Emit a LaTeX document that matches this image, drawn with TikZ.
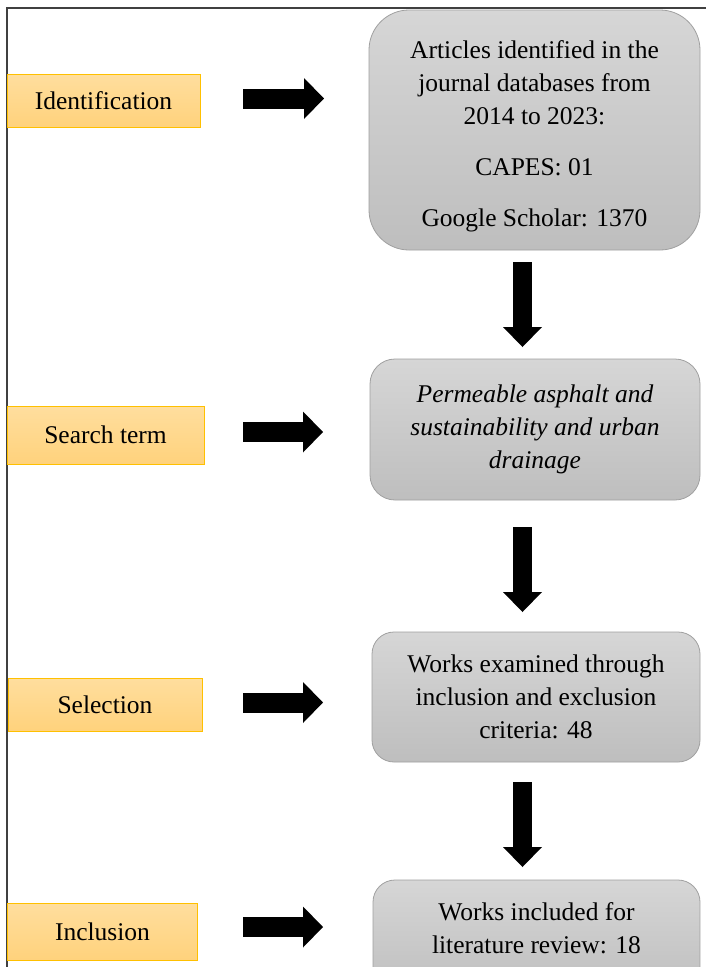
\documentclass[tikz,border=0pt]{standalone}
\usepackage{fontspec}
\setmainfont{Liberation Serif}
\usetikzlibrary{arrows.meta}
\definecolor{grayTop}{HTML}{D6D6D6}
\definecolor{grayBot}{HTML}{BEBEBE}
\definecolor{grayEdge}{HTML}{A0A0A0}
\definecolor{orTop}{HTML}{FFDE9E}
\definecolor{orBot}{HTML}{FFD27C}
\definecolor{orEdge}{HTML}{FFC000}
\definecolor{frameC}{HTML}{404040}
\tikzset{
  lbl/.style={draw=orEdge, line width=1pt, top color=orTop, bottom color=orBot,
    inner sep=0pt, align=center, font=\fontsize{25.5}{33}\selectfont},
  gbox/.style={draw=grayEdge, line width=0.8pt, top color=grayTop, bottom color=grayBot,
    inner sep=0pt, align=center, font=\fontsize{25.5}{33}\selectfont},
  rarrow/.style={line width=20pt, -{Triangle[length=20pt,width=41pt,line width=0pt]}},
  darrow/.style={line width=19pt, -{Triangle[length=20pt,width=39pt,line width=0pt]}}
}
\begin{document}
\begin{tikzpicture}[x=1pt,y=-1pt]
\useasboundingbox (0,0) rectangle (706,967);
\clip (0,0) rectangle (706,967);
\fill[white] (0,0) rectangle (706,967);
\draw[frameC, line width=1.5pt] (7,1000) -- (7,8) -- (720,8);

% label boxes
\node[lbl, minimum width=193pt, minimum height=53pt] (id) at (103.5,100.5) {Identification};
\node[lbl, minimum width=197pt, minimum height=58pt] (st) at (105.5,435) {Search term};
\node[lbl, minimum width=194pt, minimum height=53pt] (sel) at (105,704.5) {Selection};
\node[lbl, minimum width=190pt, minimum height=57pt] (inc) at (102.5,931.5) {Inclusion};

% gray boxes
\node[gbox, rounded corners=40pt, minimum width=331pt, minimum height=240pt] (b1) at (534.5,130)
  {\rule{0pt}{31pt}Articles identified in the\\journal databases from\\2014 to 2023:\\[18pt]CAPES: 01\\[18pt]Google Scholar: 1370};
\node[gbox, rounded corners=25pt, minimum width=330pt, minimum height=141pt, font=\fontsize{25.5}{33}\selectfont\itshape] (b2) at (535,429.5)
  {Permeable asphalt and\\sustainability and urban\\drainage};
\node[gbox, rounded corners=22pt, minimum width=328pt, minimum height=130pt] (b3) at (536,697)
  {Works examined through\\inclusion and exclusion\\criteria: 48};
\node[gbox, rounded corners=22pt, minimum width=327pt, minimum height=116pt] (b4) at (536.5,938)
  {Works included for\\literature review: 18\rule[-20pt]{0pt}{1pt}};

% arrow end points
\coordinate (a1s) at (243,98.5);  \coordinate (a1e) at (324,98.5);
\coordinate (a2s) at (243,432);   \coordinate (a2e) at (323,432);
\coordinate (a3s) at (243,702.5); \coordinate (a3e) at (323,702.5);
\coordinate (a4s) at (243,927);   \coordinate (a4e) at (323,927);
\coordinate (d1s) at (522.5,262); \coordinate (d1e) at (522.5,347);
\coordinate (d2s) at (522.5,527); \coordinate (d2e) at (522.5,612);
\coordinate (d3s) at (522.5,782); \coordinate (d3e) at (522.5,867);

\draw[rarrow] (a1s) -- (a1e);
\draw[rarrow] (a2s) -- (a2e);
\draw[rarrow] (a3s) -- (a3e);
\draw[rarrow] (a4s) -- (a4e);
\draw[darrow] (d1s) -- (d1e);
\draw[darrow] (d2s) -- (d2e);
\draw[darrow] (d3s) -- (d3e);
\end{tikzpicture}
\end{document}
